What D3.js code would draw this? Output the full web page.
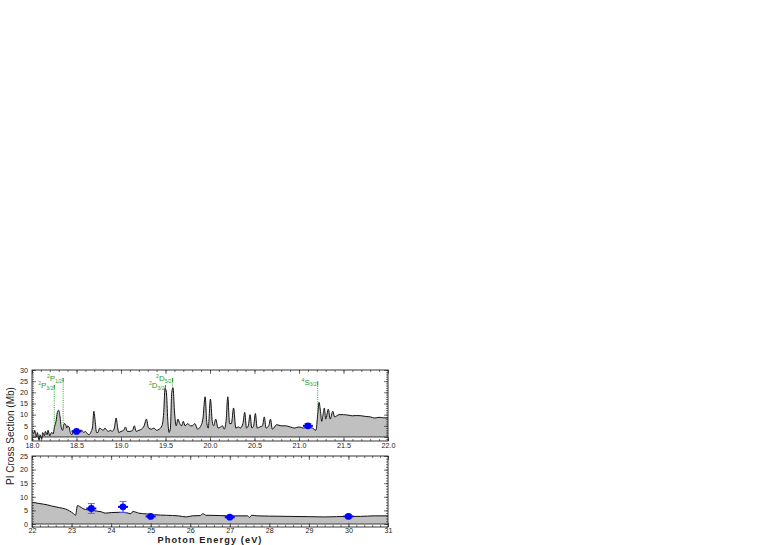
<!DOCTYPE html>
<html>
<head>
<meta charset="utf-8">
<script src="https://cdn.jsdelivr.net/npm/d3@7"></script>
<style>
  body { margin: 0; background: #fff; }
  svg { display: block; font-family: "Liberation Sans", Arial, sans-serif; }
  .tick text { font-size: 7.2px; fill: #222; }
  .tick line { stroke: #333; stroke-width: 0.7; }
</style>
</head>
<body>
<svg id="chart" width="763" height="545"></svg>
<script>
// ---- data ----

// upper panel: photon energy (eV) and cross section (Mb), 18 - 22 eV
let lowEnergy = [
    18.00, 18.02, 18.03, 18.05, 18.06, 18.08, 18.09, 18.11, 18.12, 18.14,
    18.15, 18.17, 18.18, 18.20, 18.22, 18.24, 18.25, 18.27, 18.285, 18.30,
    18.315, 18.33, 18.345, 18.36, 18.38, 18.39, 18.40, 18.42, 18.43, 18.45,
    18.46, 18.48, 18.50, 18.52, 18.54, 18.56, 18.58, 18.60, 18.62, 18.64,
    18.66, 18.68, 18.695, 18.71, 18.725, 18.74, 18.76, 18.78, 18.80, 18.82,
    18.84, 18.86, 18.88, 18.90, 18.925, 18.945, 18.96, 18.975, 19.00, 19.03,
    19.05, 19.07, 19.10, 19.13, 19.15, 19.17, 19.20, 19.23, 19.26, 19.285,
    19.31, 19.34, 19.37, 19.40, 19.43, 19.46, 19.48, 19.495, 19.51, 19.525,
    19.54, 19.555, 19.57, 19.585, 19.60, 19.62, 19.64, 19.66, 19.68, 19.70,
    19.72, 19.75, 19.78, 19.80, 19.83, 19.86, 19.89, 19.92, 19.945, 19.965,
    19.98, 20.005, 20.025, 20.04, 20.065, 20.09, 20.12, 20.14, 20.16, 20.18,
    20.20, 20.22, 20.24, 20.265, 20.29, 20.32, 20.34, 20.37, 20.39, 20.41,
    20.43, 20.45, 20.47, 20.49, 20.51, 20.53, 20.56, 20.59, 20.61, 20.63,
    20.66, 20.68, 20.70, 20.75, 20.80, 20.85, 20.90, 20.95, 21.00, 21.05,
    21.10, 21.15, 21.19, 21.21, 21.225, 21.24, 21.255, 21.27, 21.285, 21.30,
    21.33, 21.35, 21.38, 21.40, 21.45, 21.50, 21.55, 21.60, 21.65, 21.70,
    21.75, 21.80, 21.85, 21.90, 21.95, 22.00
];
let lowCross = [
    3.0, 1.5, 3.0, 0.0, 2.0, -1.5, 1.0, -1.0, 2.0, 0.5,
    2.5, 1.0, 3.0, 0.5, 2.0, 1.5, 4.0, 7.0, 11.0, 12.0,
    9.0, 4.0, 3.0, 6.0, 5.5, 4.0, 5.0, 4.0, 2.0, 1.0,
    3.0, 2.0, 2.5, 2.0, 3.0, 3.0, 2.0, 2.5, 1.5, 1.0,
    2.0, 4.5, 11.5, 7.0, 2.0, 2.0, 4.0, 3.5, 3.0, 4.0,
    3.0, 2.5, 3.0, 2.5, 4.0, 8.5, 5.0, 2.0, 2.5, 3.0,
    4.5, 2.5, 2.5, 3.0, 5.0, 2.5, 3.0, 3.5, 5.0, 8.0,
    4.0, 3.5, 4.0, 3.0, 3.5, 5.0, 11.0, 22.0, 20.0, 8.0,
    2.0, 4.0, 20.0, 22.0, 12.0, 5.0, 8.0, 6.0, 5.0, 7.0,
    5.0, 6.0, 5.0, 5.0, 6.0, 3.5, 4.5, 8.0, 18.0, 6.0,
    4.0, 17.0, 7.0, 5.0, 8.0, 4.0, 4.5, 5.0, 3.5, 7.0,
    18.0, 6.0, 6.0, 13.0, 4.0, 4.5, 4.0, 6.0, 11.0, 4.0,
    5.0, 10.0, 4.0, 5.0, 10.5, 4.0, 4.5, 5.0, 9.0, 4.0,
    5.0, 8.0, 3.5, 5.5, 5.0, 5.0, 4.5, 4.0, 4.5, 4.0,
    4.5, 4.0, 3.0, 10.0, 15.5, 12.0, 7.0, 10.0, 13.0, 8.0,
    12.5, 8.0, 11.5, 9.0, 10.0, 10.0, 9.8, 9.5, 9.6, 9.5,
    9.2, 9.0, 8.5, 8.8, 8.6, 8.5
];

// lower panel: 22 - 31 eV
let highEnergy = [
    22.0, 22.2, 22.4, 22.5, 22.7, 22.85, 22.95, 23.05, 23.1, 23.15,
    23.2, 23.3, 23.5, 23.75, 23.85, 24.0, 24.2, 24.4, 24.5, 24.55,
    24.7, 24.9, 25.1, 25.4, 25.7, 25.9, 26.05, 26.25, 26.32, 26.4,
    26.5, 27.0, 27.45, 27.5, 27.55, 27.7, 28.0, 28.5, 29.0, 29.4,
    30.0, 30.3, 30.65, 30.9, 31.0
];
let highCross = [
    8.0, 7.5, 7.0, 6.6, 6.0, 5.5, 4.8, 3.8, 3.2, 6.8,
    6.5, 5.6, 5.0, 4.5, 4.0, 4.2, 4.3, 4.1, 3.8, 4.6,
    4.0, 3.7, 3.4, 3.2, 3.0, 2.6, 3.0, 3.1, 3.8, 3.2,
    3.2, 3.0, 3.0, 2.4, 3.2, 3.0, 2.9, 2.8, 2.7, 2.6,
    2.8, 2.8, 3.0, 3.0, 3.0
];

// measured points with error bars
let lowPointEnergy = [18.5, 21.1];
let lowPointCross = [2.5, 5.0];
let lowPointError = [0.5, 1.0];

let highPointEnergy = [23.5, 24.3, 25.0, 27.0, 30.0];
let highPointCross = [5.7, 6.3, 2.8, 2.5, 2.8];
let highPointError = [1.8, 2.0, 0.5, 0.4, 0.7];

// ionic thresholds
let levelEnergy = [18.25, 18.35, 19.50, 19.58, 21.21];
let levelSup = ["2", "2", "2", "2", "4"];
let levelTerm = ["P", "P", "D", "D", "S"];
let levelSub = ["3/2", "1/2", "3/2", "5/2", "3/2"];

// axis ticks
let lowTicks = [18.0, 18.5, 19.0, 19.5, 20.0, 20.5, 21.0, 21.5, 22.0];
let highTicks = [22, 23, 24, 25, 26, 27, 28, 29, 30, 31];
let lowYTicks = [0, 5, 10, 15, 20, 25, 30];
let highYTicks = [0, 5, 10, 15, 20, 25];


/**
 * Draws everything.
 */
function main() {
    let svg = d3.select("#chart");

    let left = 32, right = 388;

    let top = {
        x: d3.scaleLinear().domain([18, 22]).range([left, right]),
        y: d3.scaleLinear().domain([-1.8, 30]).range([441, 370]),
        xTicks: lowTicks, xMinor: d3.range(18, 22.001, 0.1),
        yTicks: lowYTicks, yMinor: d3.range(-1, 30.5, 1),
        fmt: d3.format(".1f"), pad: 2.2, id: "top"
    };
    let bottom = {
        x: d3.scaleLinear().domain([22, 31]).range([left, right]),
        y: d3.scaleLinear().domain([-1.1, 25]).range([527, 456]),
        xTicks: highTicks, xMinor: d3.range(22, 31.001, 0.2),
        yTicks: highYTicks, yMinor: d3.range(-1, 25.5, 1),
        fmt: d3.format("d"), pad: 1, id: "bot"
    };

    drawPanel(svg, top, lowEnergy, lowCross,
              lowPointEnergy, lowPointCross, lowPointError);
    drawPanel(svg, bottom, highEnergy, highCross,
              highPointEnergy, highPointCross, highPointError);

    drawLevels(svg, top);

    // axis titles
    svg.append("text")
       .attr("x", 210)
       .attr("y", 542.8)
       .attr("text-anchor", "middle")
       .style("font-size", "9.2px")
       .style("font-weight", "bold")
       .style("letter-spacing", "1.1px")
       .attr("fill", "#222")
       .text("Photon Energy (eV)");

    svg.append("text")
       .attr("transform", "translate(14,436) rotate(-90)")
       .attr("text-anchor", "middle")
       .style("font-size", "10px")
       .attr("fill", "#222")
       .text("PI Cross Section (Mb)");
}


/**
 * One panel: filled spectrum, frame, ticks on all sides, data points.
 */
function drawPanel(svg, p, xs, ys, px, py, pe) {
    let x = p.x, y = p.y;
    let x0 = x.range()[0], x1 = x.range()[1];
    let y0 = y.range()[1], y1 = y.range()[0];

    svg.append("clipPath")
       .attr("id", "clip-" + p.id)
       .append("rect")
       .attr("x", x0).attr("y", y0)
       .attr("width", x1 - x0).attr("height", y1 - y0);

    let pts = xs.map((d, i) => [d, ys[i]]);

    let area = d3.area()
                 .curve(d3.curveMonotoneX)
                 .x(d => x(d[0]))
                 .y0(y(0))
                 .y1(d => y(d[1]));
    let line = d3.line()
                 .curve(d3.curveMonotoneX)
                 .x(d => x(d[0]))
                 .y(d => y(d[1]));

    let g = svg.append("g").attr("clip-path", "url(#clip-" + p.id + ")");
    g.append("path")
     .datum(pts)
     .attr("d", area)
     .attr("fill", "#c0c0c0");
    g.append("path")
     .datum(pts)
     .attr("d", line)
     .attr("fill", "none")
     .attr("stroke", "#111")
     .attr("stroke-width", 1);

    // zero line
    g.append("line")
     .attr("x1", x0).attr("x2", x1)
     .attr("y1", y(0)).attr("y2", y(0))
     .attr("stroke", "#111")
     .attr("stroke-width", 0.8);

    // minor ticks, all four sides
    addAxis(svg, d3.axisBottom(x).tickValues(p.xMinor).tickSize(-2).tickFormat(""), 0, y1);
    addAxis(svg, d3.axisTop(x).tickValues(p.xMinor).tickSize(-2).tickFormat(""), 0, y0);
    addAxis(svg, d3.axisLeft(y).tickValues(p.yMinor).tickSize(-2).tickFormat(""), x0, 0);
    addAxis(svg, d3.axisRight(y).tickValues(p.yMinor).tickSize(-2).tickFormat(""), x1, 0);

    // major ticks, labelled on the left and bottom
    addAxis(svg, d3.axisBottom(x).tickValues(p.xTicks).tickSize(-4)
                   .tickPadding(p.pad).tickFormat(p.fmt), 0, y1);
    addAxis(svg, d3.axisTop(x).tickValues(p.xTicks).tickSize(-4).tickFormat(""), 0, y0);
    addAxis(svg, d3.axisLeft(y).tickValues(p.yTicks).tickSize(-4)
                   .tickPadding(4).tickFormat(d3.format("d")), x0, 0);
    addAxis(svg, d3.axisRight(y).tickValues(p.yTicks).tickSize(-4).tickFormat(""), x1, 0);

    // frame
    svg.append("rect")
       .attr("x", x0).attr("y", y0)
       .attr("width", x1 - x0).attr("height", y1 - y0)
       .attr("fill", "none")
       .attr("stroke", "#222")
       .attr("stroke-width", 0.9);

    // data points with error bars
    let pg = svg.append("g");
    px.forEach(function(e, i) {
        let cx = x(e);
        pg.append("line")
          .attr("x1", cx).attr("x2", cx)
          .attr("y1", y(py[i] - pe[i])).attr("y2", y(py[i] + pe[i]))
          .attr("stroke", "#3344ff").attr("stroke-width", 1.2);
        [py[i] - pe[i], py[i] + pe[i]].forEach(function(v) {
            pg.append("line")
              .attr("x1", cx - 3.5).attr("x2", cx + 3.5)
              .attr("y1", y(v)).attr("y2", y(v))
              .attr("stroke", "#5566ff").attr("stroke-width", 1);
        });
        pg.append("line")
          .attr("x1", cx - 5).attr("x2", cx + 5)
          .attr("y1", y(py[i])).attr("y2", y(py[i]))
          .attr("stroke", "#0000ff").attr("stroke-width", 2);
        pg.append("circle")
          .attr("cx", cx).attr("cy", y(py[i]))
          .attr("r", 3.4)
          .attr("fill", "#0000ff");
    });
}


/**
 * Helper: places an axis and hides its domain line.
 */
function addAxis(svg, axis, tx, ty) {
    let a = svg.append("g")
               .attr("transform", "translate(" + tx + "," + ty + ")")
               .call(axis);
    a.select(".domain").remove();
    return a;
}


/**
 * Green dotted threshold markers with term labels.
 */
function drawLevels(svg, p) {
    let x = p.x, y = p.y;
    let green = "#2a9d2a";

    // value of the spectrum at an energy, for the bottom of each marker
    function specAt(e) {
        let i = d3.bisectLeft(lowEnergy, e);
        if (i <= 0) return lowCross[0];
        let a = lowEnergy[i - 1], b = lowEnergy[i];
        let t = (e - a) / (b - a);
        return lowCross[i - 1] + t * (lowCross[i] - lowCross[i - 1]);
    }

    levelEnergy.forEach(function(e, i) {
        // first of a close pair sits lower, second higher, lone one between
        let next = levelEnergy[i + 1], prev = levelEnergy[i - 1];
        let topY;
        if (next !== undefined && next - e < 0.15) topY = 385;
        else if (prev !== undefined && e - prev < 0.15) topY = 378;
        else topY = 381.5;

        let lx = x(e);
        let bottomY = Math.min(y(specAt(e)), y(0));

        svg.append("line")
           .attr("x1", lx).attr("x2", lx)
           .attr("y1", topY).attr("y2", bottomY)
           .attr("stroke", green)
           .attr("stroke-width", 1)
           .attr("stroke-dasharray", "1,1.2");
        svg.append("line")
           .attr("x1", lx).attr("x2", lx)
           .attr("y1", topY).attr("y2", topY + 4)
           .attr("stroke", green)
           .attr("stroke-width", 1);

        let t = svg.append("text")
                   .attr("x", lx - 1)
                   .attr("y", topY + 3)
                   .attr("text-anchor", "end")
                   .attr("fill", green)
                   .style("font-size", "8px");
        t.append("tspan")
         .attr("dy", -3)
         .style("font-size", "5px")
         .text(levelSup[i]);
        t.append("tspan")
         .attr("dy", 3)
         .text(levelTerm[i]);
        t.append("tspan")
         .attr("dy", 1.5)
         .style("font-size", "5px")
         .text(levelSub[i]);
    });
}

main();
</script>
</body>
</html>
